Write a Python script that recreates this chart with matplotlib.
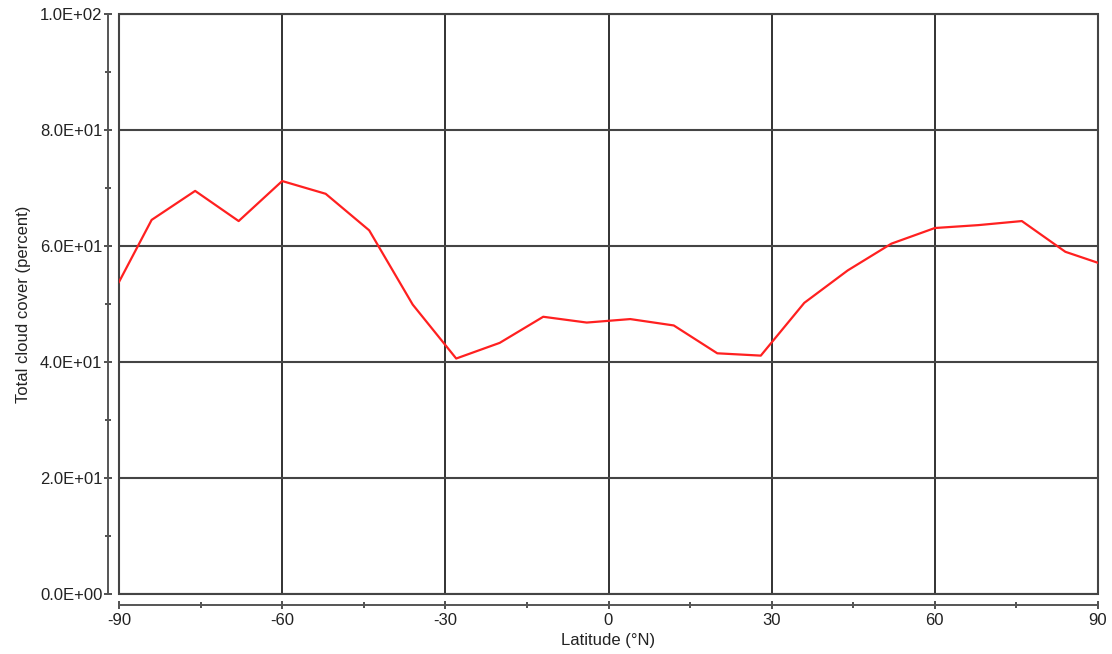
import matplotlib
matplotlib.use("Agg")
import matplotlib.pyplot as plt
from matplotlib.patches import Rectangle
from matplotlib.ticker import MultipleLocator, FuncFormatter

# zonal mean total cloud cover
lat = [-90, -84, -76, -68, -60, -52, -44, -36, -28, -20, -12, -4,
       4, 12, 20, 28, 36, 44, 52, 60, 68, 76, 84, 90]
cloud = [53.8, 64.5, 69.5, 64.3, 71.2, 69.0, 62.7, 49.9, 40.6, 43.3, 47.8, 46.8,
         47.4, 46.3, 41.5, 41.1, 50.2, 55.8, 60.4, 63.1, 63.6, 64.3, 59.0, 57.1]

x_ticks = [-90, -60, -30, 0, 30, 60, 90]
y_ticks = [0, 20, 40, 60, 80, 100]


def main():
	plt.rcParams['font.family'] = ['Liberation Sans', 'DejaVu Sans']
	plt.rcParams['axes.unicode_minus'] = False

	fig = plt.figure(figsize=(11.12, 6.54), dpi=100)
	ax = fig.add_axes([119 / 1112, 1 - 594 / 654, (1098 - 119) / 1112, (594 - 14) / 654])

	ax.plot(lat, cloud, color='#ff2020', lw=1.6, zorder=3)

	ax.set_xlim(-90, 90)
	ax.set_ylim(0, 100)
	ax.set_xticks(x_ticks)
	ax.set_yticks(y_ticks)
	ax.xaxis.set_minor_locator(MultipleLocator(15))
	ax.yaxis.set_minor_locator(MultipleLocator(10))
	ax.yaxis.set_major_formatter(FuncFormatter(lambda v, p: "%.1E" % v))

	ax.grid(True, which='major', axis='y', color='#444444', lw=1.5)
	ax.grid(True, which='major', axis='x', color='#222222', lw=1.3)

	# plot frame
	ax.add_patch(Rectangle((0, 0), 1, 1, transform=ax.transAxes, fill=False,
		ec='#444444', lw=1.5, clip_on=False, zorder=2))

	for s in ['top', 'right']:
		ax.spines[s].set_visible(False)
	for s in ['left', 'bottom']:
		ax.spines[s].set_position(('outward', 8))
		ax.spines[s].set_color('#555555')
		ax.spines[s].set_linewidth(1.4)

	ax.tick_params(which='both', direction='inout', color='#333333', width=1.2,
		labelsize=12, labelcolor='#222222')
	ax.tick_params(which='major', length=6)
	ax.tick_params(which='minor', length=5)
	ax.tick_params(axis='y', pad=1)
	ax.tick_params(axis='x', pad=3)

	ax.set_xlabel("Latitude (°N)", fontsize=12, color='#222222', labelpad=3)
	ax.set_ylabel("Total cloud cover (percent)", fontsize=12, color='#222222', labelpad=6)

	fig.savefig("out.png", dpi=100)


if __name__ == "__main__":
	main()
